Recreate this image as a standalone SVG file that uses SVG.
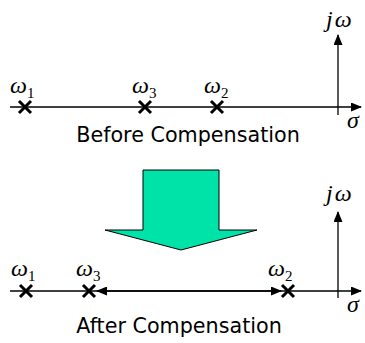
<svg xmlns="http://www.w3.org/2000/svg" width="365" height="343" viewBox="0 0 365 343">
<style>
.ax{stroke:#000;stroke-width:1.3;fill:none}
.x{stroke:#000;stroke-width:3;fill:none}
.m{font-family:"Liberation Serif",serif;font-style:italic;fill:#000;font-size:24px}
.sub{font-family:"Liberation Serif",serif;font-style:normal;font-size:15px}
.cap{font-family:"DejaVu Sans",Verdana,sans-serif;font-size:20.7px;fill:#000;text-anchor:middle}
</style>
<defs>
<marker id="ah" markerUnits="userSpaceOnUse" markerWidth="11" markerHeight="9" refX="10" refY="4.5" orient="auto-start-reverse">
<path d="M0,0 L11,4.5 L0,9 z" fill="#000"/>
</marker>
</defs>
<rect width="365" height="343" fill="#fff"/>
<g id="connectors">
<line class="ax" x1="10" y1="107" x2="361" y2="107" marker-end="url(#ah)"/>
<line class="ax" x1="338" y1="115" x2="338" y2="35" marker-end="url(#ah)"/>
<line class="ax" x1="10" y1="291" x2="361" y2="291" marker-end="url(#ah)"/>
<line class="ax" x1="338" y1="298" x2="338" y2="212" marker-end="url(#ah)"/>
<line class="ax" x1="97" y1="291" x2="281" y2="291" marker-start="url(#ah)" marker-end="url(#ah)"/>
</g>
<g id="axis-labels">
<text class="m" x="326" y="27">j<tspan dx="2">ω</tspan></text>
<text class="m" x="347" y="128">σ</text>
<text class="m" x="326" y="201">j<tspan dx="2">ω</tspan></text>
<text class="m" x="347" y="312">σ</text>
</g>
<g id="before">
<g id="b-w1"><path class="x" d="M19,101 L31,113 M31,101 L19,113"/><text class="m" x="10" y="93">ω<tspan class="sub" dy="5">1</tspan></text></g>
<g id="b-w3"><path class="x" d="M139,101 L151,113 M151,101 L139,113"/><text class="m" x="132" y="93">ω<tspan class="sub" dy="5">3</tspan></text></g>
<g id="b-w2"><path class="x" d="M211,101 L223,113 M223,101 L211,113"/><text class="m" x="204" y="93">ω<tspan class="sub" dy="5">2</tspan></text></g>
<text class="cap" x="188" y="142">Before Compensation</text>
</g>
<g id="big-arrow">
<polygon points="143,170 219,170 219,230 257,230 181,250 105,230 143,230" fill="#00E3A8" stroke="#000" stroke-width="1"/>
</g>
<g id="after">
<g id="a-w1"><path class="x" d="M20,285 L32,297 M32,285 L20,297"/><text class="m" x="11" y="276">ω<tspan class="sub" dy="5">1</tspan></text></g>
<g id="a-w3"><path class="x" d="M83,285 L95,297 M95,285 L83,297"/><text class="m" x="76" y="276">ω<tspan class="sub" dy="5">3</tspan></text></g>
<g id="a-w2"><path class="x" d="M282,285 L294,297 M294,285 L282,297"/><text class="m" x="268" y="276">ω<tspan class="sub" dy="5">2</tspan></text></g>
<text class="cap" x="179" y="333">After Compensation</text>
</g>
</svg>
